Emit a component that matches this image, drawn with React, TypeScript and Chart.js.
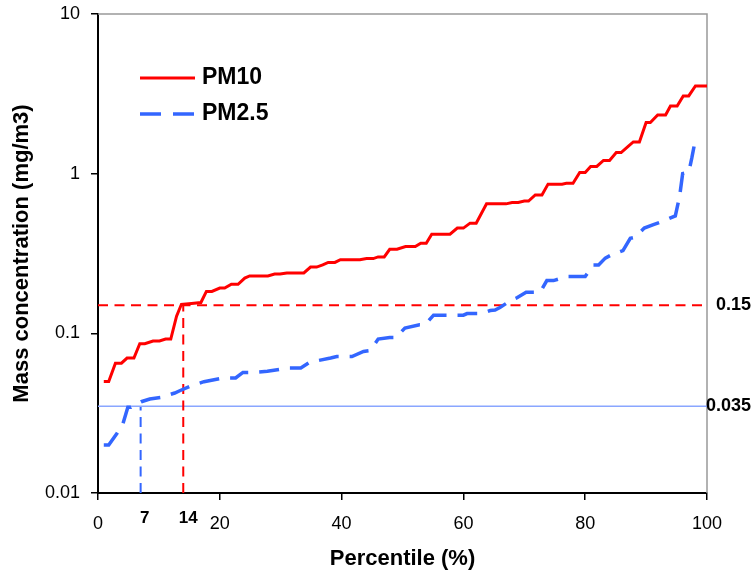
import React, { useEffect, useRef } from 'react';
import { Chart, registerables } from 'chart.js';

Chart.register(...registerables);

// ---- Data ----
const seriesLabels = ['PM10', 'PM2.5'];

const pm10X = [
  0.95, 1.76, 2.86, 3.85, 4.77, 5.9, 6.86, 7.68, 9.04, 10.1, 11.1, 11.95, 12.9, 13.7,
  15.35, 16.9, 17.8, 18.7, 20.0, 20.8, 21.9, 23.0, 24.1, 24.9, 27.9, 29.0, 29.9, 31.0,
  33.8, 34.9, 35.9, 36.9, 37.8, 38.9, 39.8, 43.0, 44.1, 45.2, 46.0, 47.0, 47.9, 49.1,
  50.5, 52.1, 53.0, 53.9, 54.8, 57.8, 59.0, 60.0, 61.1, 62.1, 63.8, 67.0, 68.0, 69.0,
  70.0, 70.7, 71.8, 72.9, 73.9, 76.2, 76.9, 78.0, 79.1, 80.0, 80.9, 81.9, 83.0, 84.0,
  85.1, 85.9, 87.1, 87.9, 88.9, 90.0, 90.7, 91.9, 93.2, 94.0, 95.1, 96.1, 97.0, 98.1, 100,
];
const pm10Y = [
  0.05, 0.05, 0.065, 0.065, 0.07, 0.07, 0.086, 0.086, 0.0895, 0.0895, 0.092, 0.092, 0.128, 0.152,
  0.154, 0.156, 0.183, 0.183, 0.192, 0.192, 0.203, 0.203, 0.222, 0.229, 0.229, 0.235, 0.235, 0.239,
  0.239, 0.26, 0.26, 0.268, 0.278, 0.278, 0.289, 0.289, 0.294, 0.294, 0.301, 0.301, 0.336, 0.336,
  0.35, 0.35, 0.367, 0.367, 0.418, 0.418, 0.456, 0.456, 0.49, 0.49, 0.647, 0.647, 0.66, 0.66,
  0.674, 0.674, 0.736, 0.736, 0.86, 0.86, 0.87, 0.87, 1.016, 1.016, 1.11, 1.11, 1.21, 1.21,
  1.355, 1.355, 1.49, 1.58, 1.58, 2.09, 2.09, 2.33, 2.33, 2.65, 2.65, 3.07, 3.07, 3.54, 3.54,
];

const pm25X = [
  0.95, 1.76, 3.1, 4.1, 4.9, 5.4, 7.1, 8.5, 10.3, 12.6, 13.6, 15.1, 17.4, 20.5, 22.6, 23.8,
  25.8, 27.8, 31.2, 33.3, 34.8, 36.2, 38.2, 39.2, 41.7, 43.6, 44.7, 46.0, 47.9, 48.9, 50.4,
  52.8, 53.7, 55.1, 57.4, 60.0, 60.6, 62.9, 64.4, 65.2, 66.0, 67.7, 68.8, 70.3, 72.6, 73.7,
  74.8, 77.0, 80.0, 81.3, 82.2, 83.3, 84.3, 86.2, 87.4, 88.2, 89.7, 91.2, 92.9, 94.8, 95.5,
  96.0, 97.0, 97.5, 98.0, 98.8,
];
const pm25Y = [
  0.02, 0.02, 0.0236, 0.0272, 0.0344, 0.0344, 0.0373, 0.0388, 0.0397, 0.0423, 0.044, 0.0466, 0.0498, 0.0525, 0.0525, 0.0569,
  0.057, 0.0578, 0.0607, 0.0607, 0.066, 0.0676, 0.07, 0.0715, 0.0715, 0.077, 0.078, 0.092, 0.094, 0.094, 0.108,
  0.113, 0.113, 0.13, 0.13, 0.13, 0.133, 0.133, 0.139, 0.14, 0.145, 0.16, 0.167, 0.181, 0.181, 0.214,
  0.214, 0.227, 0.227, 0.268, 0.268, 0.296, 0.31, 0.33, 0.394, 0.4, 0.456, 0.479, 0.507, 0.544, 0.72,
  1.0, 1.02, 1.25, 1.57, 1.57,
];

const xTicks = [0, 20, 40, 60, 80, 100];
const yTicks = [0.01, 0.1, 1, 10];
const pm10Limit = 0.15;
const pm25Limit = 0.035;
const pm10LimitPct = 14;
const pm25LimitPct = 7;
const xTitle = 'Percentile (%)';
const yTitle = 'Mass concentration (mg/m3)';

const FONT = "'Liberation Sans', Arial, Helvetica, sans-serif";
const RED = '#FF0000';
const BLUE = '#3366FF';
const LIGHT_BLUE = '#8AA6FF';

const toPoints = (xs: number[], ys: number[]) => xs.map((x, i) => ({ x, y: ys[i] }));

const framePlugin = {
  id: 'frame',
  beforeDatasetsDraw(chart: any) {
    const { ctx, chartArea } = chart;
    ctx.save();
    ctx.strokeStyle = '#999999';
    ctx.lineWidth = 1.5;
    ctx.beginPath();
    ctx.moveTo(chartArea.left, chartArea.top);
    ctx.lineTo(chartArea.right, chartArea.top);
    ctx.lineTo(chartArea.right, chartArea.bottom);
    ctx.stroke();
    ctx.restore();
  },
};

const annotationPlugin = {
  id: 'annotTexts',
  afterDraw(chart: any) {
    const { ctx, chartArea, scales } = chart;
    const xs = scales.x;
    const ys = scales.y;
    ctx.save();
    ctx.fillStyle = '#000';
    ctx.textBaseline = 'middle';
    // right-side limit labels
    ctx.font = `bold 18px ${FONT}`;
    ctx.textAlign = 'left';
    ctx.fillText(String(pm10Limit), chartArea.right + 9, ys.getPixelForValue(pm10Limit));
    ctx.fillText(String(pm25Limit), chartArea.right - 1, ys.getPixelForValue(pm25Limit));
    // percentile labels under axis
    ctx.font = `bold 17px ${FONT}`;
    ctx.textAlign = 'center';
    ctx.fillText(String(pm25LimitPct), xs.getPixelForValue(pm25LimitPct) + 4, chartArea.bottom + 25);
    ctx.fillText(String(pm10LimitPct), xs.getPixelForValue(pm10LimitPct) + 5, chartArea.bottom + 25);

    // legend
    const lx0 = chartArea.left + 42;
    const lx1 = chartArea.left + 97;
    const y1 = chartArea.top + 64;
    const y2 = chartArea.top + 100;
    ctx.lineWidth = 3;
    ctx.strokeStyle = RED;
    ctx.setLineDash([]);
    ctx.beginPath();
    ctx.moveTo(lx0, y1);
    ctx.lineTo(lx1, y1);
    ctx.stroke();
    ctx.lineWidth = 3.5;
    ctx.strokeStyle = BLUE;
    ctx.setLineDash([21, 12]);
    ctx.beginPath();
    ctx.moveTo(lx0, y2);
    ctx.lineTo(lx1, y2);
    ctx.stroke();
    ctx.setLineDash([]);
    ctx.font = `bold 23px ${FONT}`;
    ctx.textAlign = 'left';
    ctx.fillText(seriesLabels[0], lx1 + 7, y1);
    ctx.fillText(seriesLabels[1], lx1 + 7, y2);
    ctx.restore();
  },
};

export default function App() {
  const canvasRef = useRef<HTMLCanvasElement | null>(null);

  useEffect(() => {
    document.body.style.margin = '0';
    const canvas = canvasRef.current;
    if (!canvas) return;
    const chart = new Chart(canvas, {
      type: 'line',
      data: {
        datasets: [
          {
            label: seriesLabels[0],
            data: toPoints(pm10X, pm10Y),
            borderColor: RED,
            borderWidth: 3,
            pointRadius: 0,
            tension: 0,
            fill: false,
          },
          {
            label: seriesLabels[1],
            data: toPoints(pm25X, pm25Y),
            borderColor: BLUE,
            borderWidth: 3.5,
            borderDash: [20, 11],
            pointRadius: 0,
            tension: 0,
            fill: false,
          },
          {
            label: 'pm10-limit-h',
            data: [{ x: 0, y: pm10Limit }, { x: 100, y: pm10Limit }],
            borderColor: RED,
            borderWidth: 2,
            borderDash: [10, 6.5],
            pointRadius: 0,
          },
          {
            label: 'pm10-limit-v',
            data: [{ x: pm10LimitPct, y: 0.01 }, { x: pm10LimitPct, y: pm10Limit }],
            borderColor: RED,
            borderWidth: 2,
            borderDash: [10, 6.5],
            pointRadius: 0,
          },
          {
            label: 'pm25-limit-h',
            data: [{ x: 0, y: pm25Limit }, { x: 100, y: pm25Limit }],
            borderColor: LIGHT_BLUE,
            borderWidth: 1.5,
            pointRadius: 0,
          },
          {
            label: 'pm25-limit-v',
            data: [{ x: pm25LimitPct, y: 0.01 }, { x: pm25LimitPct, y: pm25Limit }],
            borderColor: BLUE,
            borderWidth: 2,
            borderDash: [10, 6.5],
            pointRadius: 0,
          },
        ],
      },
      options: {
        responsive: false,
        animation: false,
        events: [],
        layout: { padding: { left: 0, top: 14, right: 47, bottom: 0 } },
        plugins: {
          legend: { display: false },
          tooltip: { enabled: false },
        },
        scales: {
          x: {
            type: 'linear',
            min: 0,
            max: 100,
            afterBuildTicks: (s: any) => {
              s.ticks = xTicks.map((v) => ({ value: v }));
            },
            afterFit: (s: any) => {
              s.height = 82;
              s.paddingLeft = 0;
              s.paddingRight = 0;
            },
            ticks: {
              color: '#000',
              font: { family: FONT, size: 18 },
              padding: 13,
              maxRotation: 0,
              autoSkip: false,
            },
            grid: {
              drawOnChartArea: false,
              drawTicks: true,
              tickLength: 7,
              color: '#000',
              lineWidth: 1.5,
            },
            border: { display: true, color: '#000', width: 2 },
            title: {
              display: true,
              text: xTitle,
              color: '#000',
              font: { family: FONT, size: 22, weight: 'bold' },
              padding: { top: 0, bottom: 3 },
            },
          },
          y: {
            type: 'logarithmic',
            min: 0.01,
            max: 10,
            afterBuildTicks: (s: any) => {
              s.ticks = yTicks.map((v) => ({ value: v }));
            },
            afterFit: (s: any) => {
              s.width = 98;
              s.paddingTop = 0;
              s.paddingBottom = 0;
            },
            ticks: {
              color: '#000',
              font: { family: FONT, size: 18 },
              padding: 11,
              autoSkip: false,
              callback: (v: any) => String(v),
            },
            grid: {
              drawOnChartArea: false,
              drawTicks: true,
              tickLength: 7,
              color: '#000',
              lineWidth: 1.5,
            },
            border: { display: true, color: '#000', width: 2 },
            title: {
              display: true,
              text: yTitle,
              color: '#000',
              font: { family: FONT, size: 22, weight: 'bold' },
              padding: { top: 9, bottom: 0 },
            },
          },
        },
      },
      plugins: [framePlugin, annotationPlugin],
    } as any);
    return () => chart.destroy();
  }, []);

  return (
    <div style={{ position: 'absolute', left: 0, top: 0, width: 754, height: 575 }}>
      <canvas ref={canvasRef} width={754} height={575} style={{ display: 'block' }} />
    </div>
  );
}
